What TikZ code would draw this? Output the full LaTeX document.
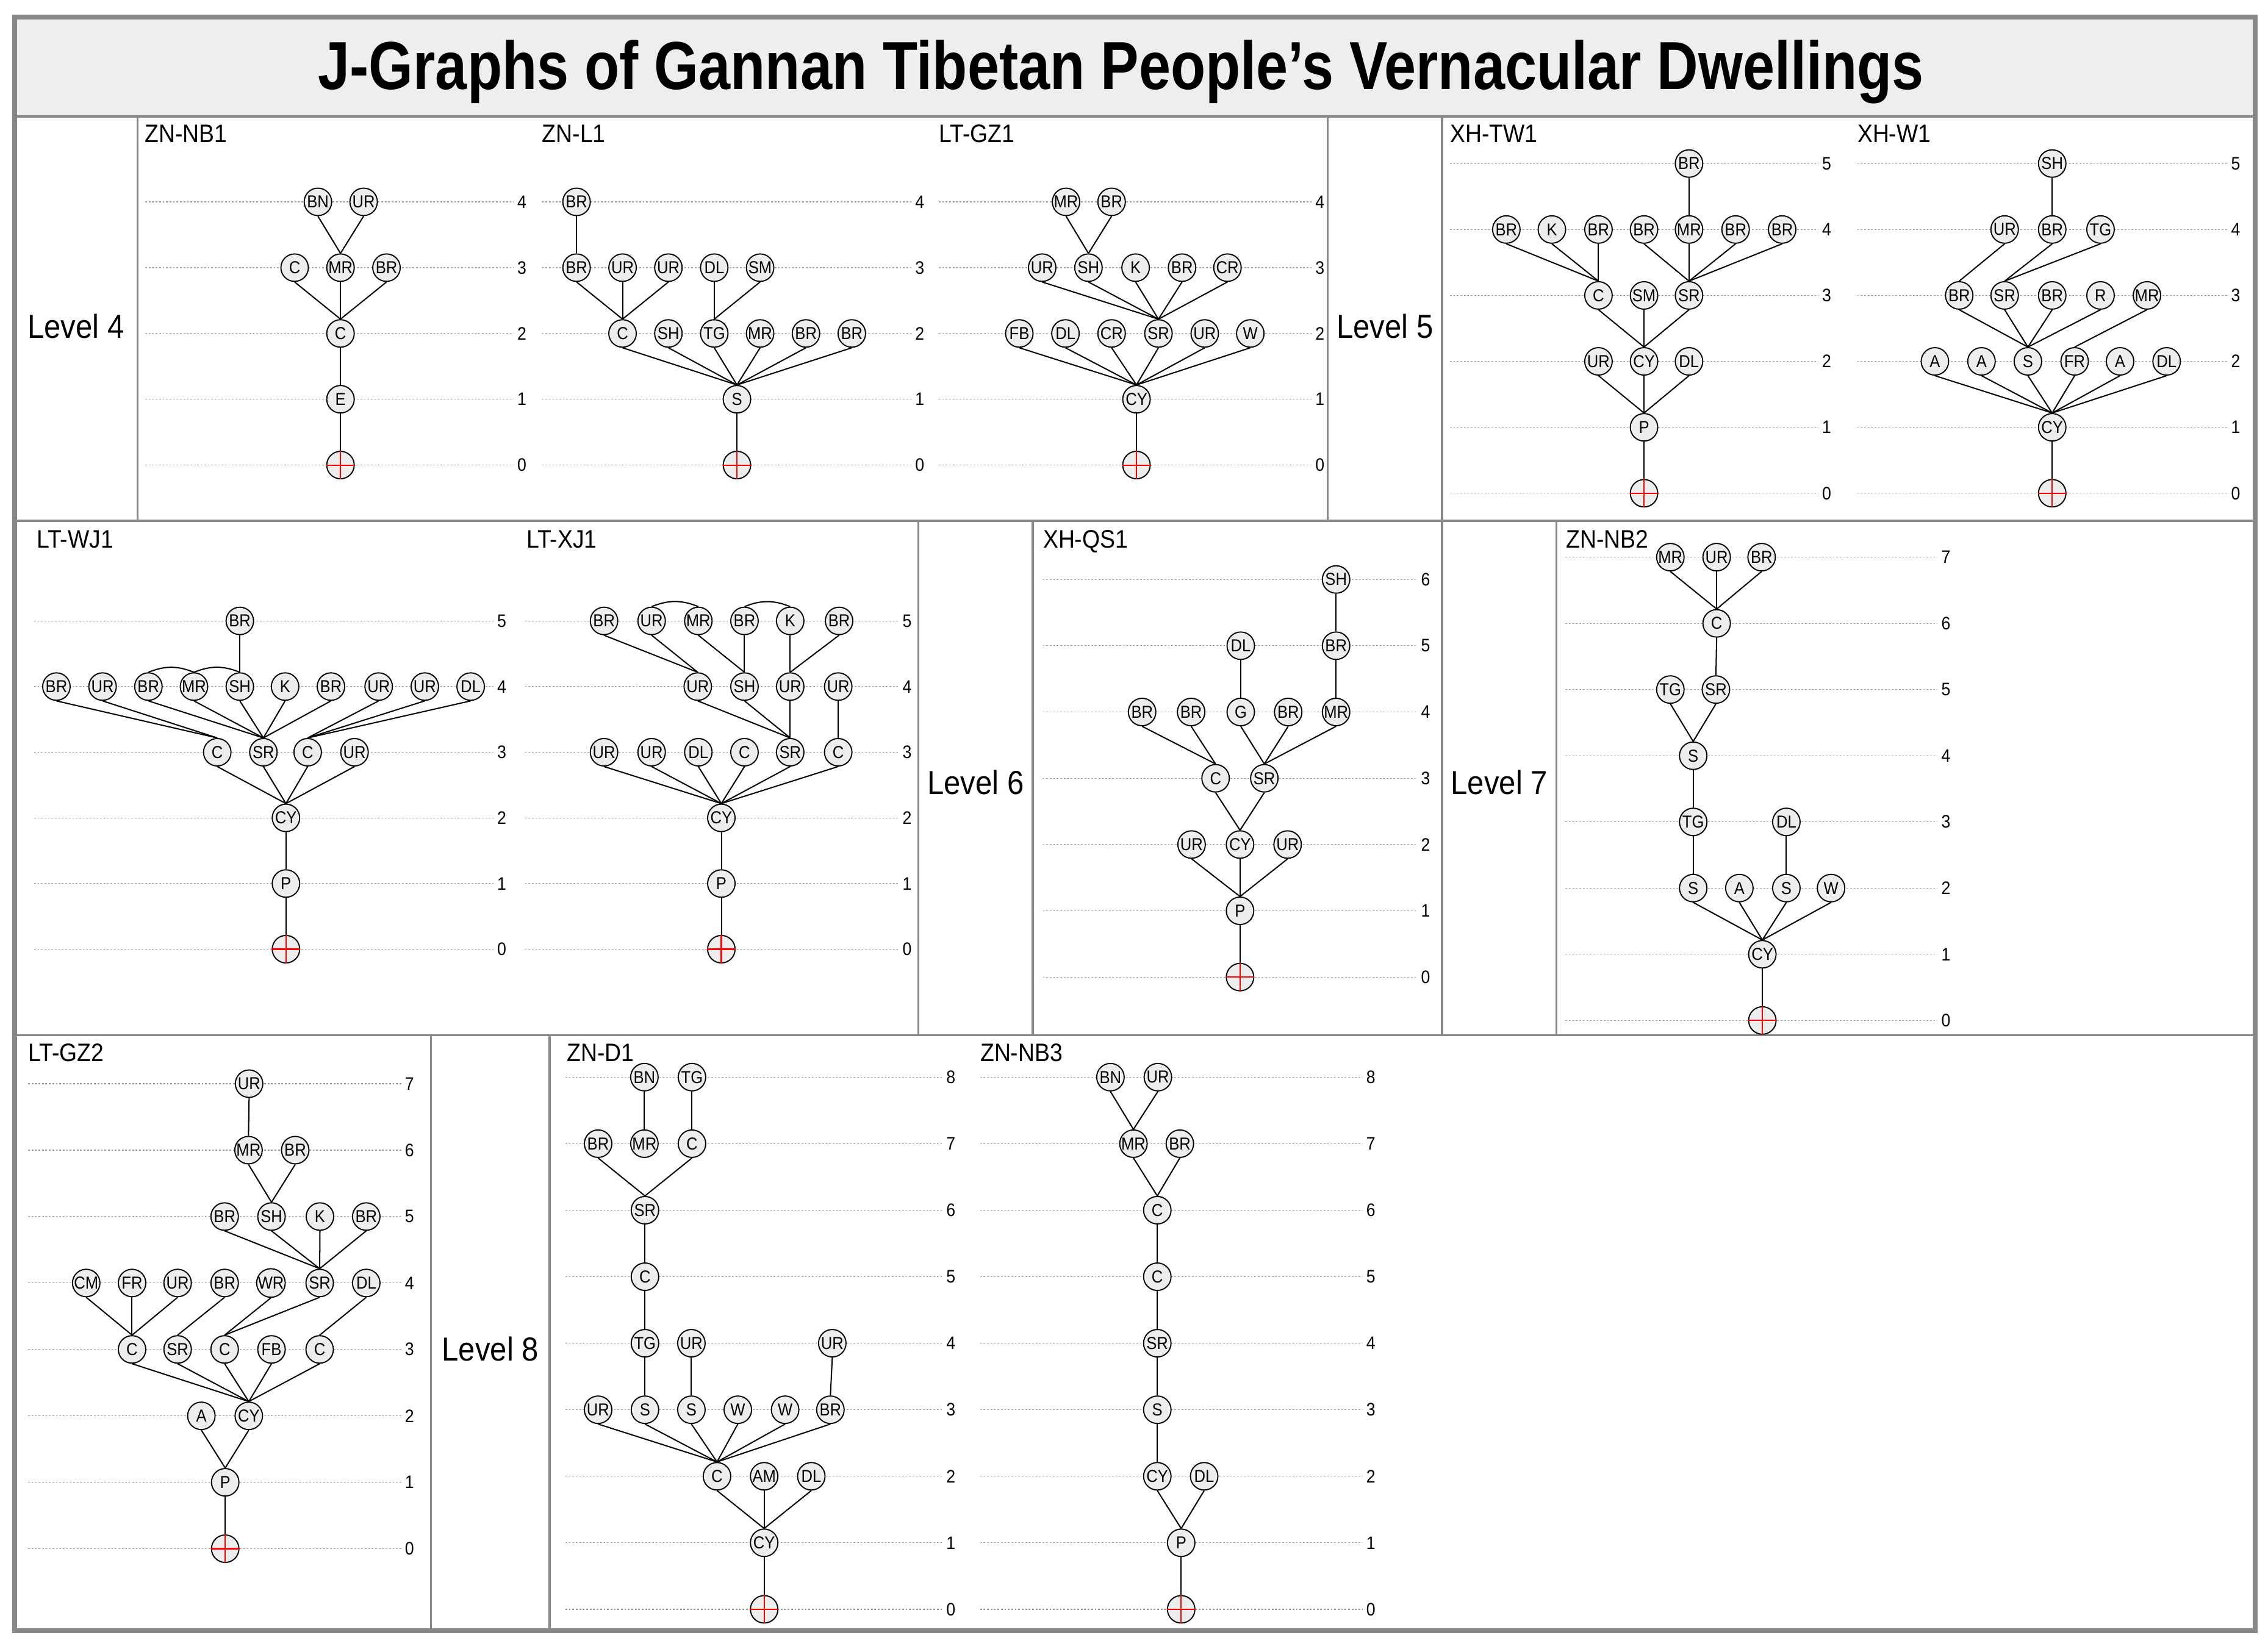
\documentclass[tikz,border=0pt]{standalone}
\usepackage{fontspec}
\setmainfont[FakeStretch=0.9]{Liberation Sans}
\newfontfamily\titlefont[FakeStretch=0.84]{Liberation Sans}
\definecolor{nodegray}{HTML}{EDEDED}
\definecolor{titlegray}{HTML}{EFEEEF}
\definecolor{framegray}{HTML}{888888}
\definecolor{lvlgray}{HTML}{9A9A9A}
\tikzset{
  nd/.style={circle, draw=black, fill=nodegray, line width=0.8pt, minimum size=19pt, inner sep=0pt, font=\fontsize{12}{13}\selectfont},
  edge/.style={draw=black, line width=0.85pt},
  lvl/.style={draw=lvlgray, line width=0.5pt, dash pattern=on 1.2pt off 1.2pt},
  num/.style={anchor=west, inner sep=0pt, font=\fontsize{12.5}{14}\selectfont},
  ptitle/.style={anchor=base west, inner sep=0pt, font=\fontsize{17.5}{20}\selectfont},
  lvlab/.style={inner sep=0pt, font=\fontsize{23}{26}\selectfont},
  crossred/.style={draw=red, line width=0.9pt},
  divline/.style={draw=framegray, line width=1.4pt},
}
\newcommand\jlv[4]{%
  \foreach \k in {0,...,#4}{%
    \draw[lvl] (#2,\k) -- (#3,\k);
    \node[num] (#1n\k) at ({#3+2.5},\k) {\k};
  }}
\newcommand\jroot[2]{%
  \node[nd] (#1) at (#2,0) {};
  \draw[crossred] (#1.west) -- (#1.east) (#1.north) -- (#1.south);}
\newcommand\jconn[1]{\foreach \u/\v in {#1}{\draw[edge] (\u.south) -- (\v.north);}}
\begin{document}
\begin{tikzpicture}[x=1pt,y=-1pt]
\useasboundingbox (0,0) rectangle (1568,1140);
\fill[white] (0,0) rectangle (1568,1140);
\fill[titlegray] (10,11.8) rectangle (1559,80.5);
\node[anchor=base, inner sep=0pt, font=\titlefont\bfseries\fontsize{47}{50}\selectfont] (title) at (775,61.9) {J-Graphs of Gannan Tibetan People’s Vernacular Dwellings};
% dividers
\draw[divline] (10,80.5) -- (1559,80.5);
\draw[divline] (10,360.2) -- (1559,360.2);
\draw[divline] (10,716) -- (1559,716);
\draw[divline] (95,80.5) -- (95,360.2);
\draw[divline] (918,80.5) -- (918,360.2);
\draw[divline] (997,80.5) -- (997,360.2);
\draw[divline] (635,360.2) -- (635,716);
\draw[divline] (714,360.2) -- (714,716);
\draw[divline] (997,360.2) -- (997,716);
\draw[divline] (1076,360.2) -- (1076,716);
\draw[divline] (298,716) -- (298,1127.6);
\draw[divline] (380,716) -- (380,1127.6);
\draw[draw=framegray, line width=3.4pt] (10,11.8) rectangle (1559,1127.6);
% level labels
\node[lvlab] (L4) at (52.5,225.5) {Level 4};
\node[lvlab] (L5) at (957.5,225.5) {Level 5};
\node[lvlab] (L6) at (674.5,541) {Level 6};
\node[lvlab] (L7) at (1036.5,541) {Level 7};
\node[lvlab] (L8) at (339,933) {Level 8};
% panel titles
\node[ptitle] (tA) at (100,98.3) {ZN-NB1};
\node[ptitle] (tB) at (374.7,98.3) {ZN-L1};
\node[ptitle] (tC) at (649,98.3) {LT-GZ1};
\node[ptitle] (tD) at (1002.4,98.3) {XH-TW1};
\node[ptitle] (tE) at (1284,98.3) {XH-W1};
\node[ptitle] (tF) at (25.2,378.8) {LT-WJ1};
\node[ptitle] (tG) at (363.8,378.8) {LT-XJ1};
\node[ptitle] (tH) at (721,378.8) {XH-QS1};
\node[ptitle] (tI) at (1082.6,378.8) {ZN-NB2};
\node[ptitle] (tJ) at (19.4,734.1) {LT-GZ2};
\node[ptitle] (tK) at (391.8,734.1) {ZN-D1};
\node[ptitle] (tL) at (677.6,734.1) {ZN-NB3};
% ---------- ZN-NB1
\begin{scope}[shift={(0,321.6)},y=45.5pt]
\jlv{a}{100.4}{355}{4}
\jroot{a0}{235.4}
\node[nd] (a1) at (235.4,1) {E};
\node[nd] (a2) at (235.4,2) {C};
\node[nd] (a3a) at (203.7,3) {C};
\node[nd] (a3b) at (235.4,3) {MR};
\node[nd] (a3c) at (267.2,3) {BR};
\node[nd] (a4a) at (219.8,4) {BN};
\node[nd] (a4b) at (251.4,4) {UR};
\jconn{a4a/a3b,a4b/a3b,a3a/a2,a3b/a2,a3c/a2,a2/a1,a1/a0}
\end{scope}
% ---------- ZN-L1
\begin{scope}[shift={(0,321.6)},y=45.5pt]
\jlv{b}{374.7}{630}{4}
\jroot{b0}{509.5}
\node[nd] (b1) at (509.5,1) {S};
\node[nd] (b2a) at (430.4,2) {C};
\node[nd] (b2b) at (462.1,2) {SH};
\node[nd] (b2c) at (493.8,2) {TG};
\node[nd] (b2d) at (525.5,2) {MR};
\node[nd] (b2e) at (557.2,2) {BR};
\node[nd] (b2f) at (588.9,2) {BR};
\node[nd] (b3a) at (398.6,3) {BR};
\node[nd] (b3b) at (430.4,3) {UR};
\node[nd] (b3c) at (462.1,3) {UR};
\node[nd] (b3d) at (493.8,3) {DL};
\node[nd] (b3e) at (525.5,3) {SM};
\node[nd] (b4a) at (398.6,4) {BR};
\jconn{b4a/b3a,b3a/b2a,b3b/b2a,b3c/b2a,b3d/b2c,b3e/b2c,b2a/b1,b2b/b1,b2c/b1,b2d/b1,b2e/b1,b2f/b1,b1/b0}
\end{scope}
% ---------- LT-GZ1
\begin{scope}[shift={(0,321.6)},y=45.5pt]
\jlv{c}{649}{906.7}{4}
\jroot{c0}{785.7}
\node[nd] (c1) at (785.7,1) {CY};
\node[nd] (c2a) at (704.7,2) {FB};
\node[nd] (c2b) at (736.6,2) {DL};
\node[nd] (c2c) at (768.5,2) {CR};
\node[nd] (c2d) at (800.9,2) {SR};
\node[nd] (c2e) at (832.9,2) {UR};
\node[nd] (c2f) at (864.4,2) {W};
\node[nd] (c3a) at (720.5,3) {UR};
\node[nd] (c3b) at (752.5,3) {SH};
\node[nd] (c3c) at (785.1,3) {K};
\node[nd] (c3d) at (817.2,3) {BR};
\node[nd] (c3e) at (848.6,3) {CR};
\node[nd] (c4a) at (737,4) {MR};
\node[nd] (c4b) at (768.5,4) {BR};
\jconn{c4a/c3b,c4b/c3b,c3a/c2d,c3b/c2d,c3c/c2d,c3d/c2d,c3e/c2d,c2a/c1,c2b/c1,c2c/c1,c2d/c1,c2e/c1,c2f/c1,c1/c0}
\end{scope}
% ---------- XH-TW1
\begin{scope}[shift={(0,341.1)},y=45.6pt]
\jlv{d}{1002.4}{1257.1}{5}
\jroot{d0}{1136.6}
\node[nd] (d1) at (1136.6,1) {P};
\node[nd] (d2a) at (1105.1,2) {UR};
\node[nd] (d2b) at (1136.6,2) {CY};
\node[nd] (d2c) at (1167.7,2) {DL};
\node[nd] (d3a) at (1105.1,3) {C};
\node[nd] (d3b) at (1136.6,3) {SM};
\node[nd] (d3c) at (1167.7,3) {SR};
\node[nd] (d4a) at (1041.4,4) {BR};
\node[nd] (d4b) at (1072.9,4) {K};
\node[nd] (d4c) at (1105.1,4) {BR};
\node[nd] (d4d) at (1136.6,4) {BR};
\node[nd] (d4e) at (1167.7,4) {MR};
\node[nd] (d4f) at (1199.9,4) {BR};
\node[nd] (d4g) at (1232.1,4) {BR};
\node[nd] (d5a) at (1167.7,5) {BR};
\jconn{d5a/d4e,d4a/d3a,d4b/d3a,d4c/d3a,d4d/d3c,d4e/d3c,d4f/d3c,d4g/d3c,d3a/d2b,d3b/d2b,d3c/d2b,d2a/d1,d2b/d1,d2c/d1,d1/d0}
\end{scope}
% ---------- XH-W1
\begin{scope}[shift={(0,341.1)},y=45.6pt]
\jlv{e}{1284}{1539.8}{5}
\jroot{e0}{1418.8}
\node[nd] (e1) at (1418.8,1) {CY};
\node[nd] (e2a) at (1337.7,2) {A};
\node[nd] (e2b) at (1369.9,2) {A};
\node[nd] (e2c) at (1402,2) {S};
\node[nd] (e2d) at (1434.3,2) {FR};
\node[nd] (e2e) at (1465.7,2) {A};
\node[nd] (e2f) at (1497.9,2) {DL};
\node[nd] (e3a) at (1354.5,3) {BR};
\node[nd] (e3b) at (1385.9,3) {SR};
\node[nd] (e3c) at (1418.8,3) {BR};
\node[nd] (e3d) at (1452.2,3) {R};
\node[nd] (e3e) at (1484.3,3) {MR};
\node[nd] (e4a) at (1385.9,4) {UR};
\node[nd] (e4b) at (1418.8,4) {BR};
\node[nd] (e4c) at (1452.2,4) {TG};
\node[nd] (e5a) at (1418.8,5) {SH};
\jconn{e5a/e4b,e4a/e3a,e4b/e3b,e4c/e3b,e3a/e2c,e3b/e2c,e3c/e2c,e3d/e2c,e3e/e2d,e2a/e1,e2b/e1,e2c/e1,e2d/e1,e2e/e1,e2f/e1,e1/e0}
\end{scope}
% ---------- LT-WJ1
\begin{scope}[shift={(0,656.4)},y=45.4pt]
\jlv{f}{23.6}{341.1}{5}
\jroot{f0}{197.7}
\node[nd] (f1) at (197.7,1) {P};
\node[nd] (f2) at (197.7,2) {CY};
\node[nd] (f3a) at (150.2,3) {C};
\node[nd] (f3b) at (182.1,3) {SR};
\node[nd] (f3c) at (212.7,3) {C};
\node[nd] (f3d) at (245.1,3) {UR};
\node[nd] (f4a) at (39,4) {BR};
\node[nd] (f4b) at (70.9,4) {UR};
\node[nd] (f4c) at (102.6,4) {BR};
\node[nd] (f4d) at (134.1,4) {MR};
\node[nd] (f4e) at (165.8,4) {SH};
\node[nd] (f4f) at (197.1,4) {K};
\node[nd] (f4g) at (228.8,4) {BR};
\node[nd] (f4h) at (261.8,4) {UR};
\node[nd] (f4i) at (293.7,4) {UR};
\node[nd] (f4j) at (325.4,4) {DL};
\node[nd] (f5a) at (165.8,5) {BR};
\jconn{f5a/f4e,f4a/f3a,f4b/f3a,f4c/f3b,f4d/f3b,f4e/f3b,f4f/f3b,f4g/f3b,f4h/f3c,f4i/f3c,f4j/f3c,f3a/f2,f3b/f2,f3c/f2,f3d/f2,f2/f1,f1/f0}
\draw[edge] (f4c.north) to[bend left=22] (f4d.north);
\draw[edge] (f4d.north) to[bend left=22] (f4e.north);
\end{scope}
% ---------- LT-XJ1
\begin{scope}[shift={(0,656.4)},y=45.4pt]
\jlv{g}{362.9}{621.3}{5}
\jroot{g0}{498.7}
\node[nd] (g1) at (498.7,1) {P};
\node[nd] (g2) at (498.7,2) {CY};
\node[nd] (g3a) at (417.6,3) {UR};
\node[nd] (g3b) at (450.5,3) {UR};
\node[nd] (g3c) at (482.8,3) {DL};
\node[nd] (g3d) at (514.7,3) {C};
\node[nd] (g3e) at (546.3,3) {SR};
\node[nd] (g3f) at (579.5,3) {C};
\node[nd] (g4a) at (482.4,4) {UR};
\node[nd] (g4b) at (514.7,4) {SH};
\node[nd] (g4c) at (546.3,4) {UR};
\node[nd] (g4d) at (579.5,4) {UR};
\node[nd] (g5a) at (417.6,5) {BR};
\node[nd] (g5b) at (450.5,5) {UR};
\node[nd] (g5c) at (482.8,5) {MR};
\node[nd] (g5d) at (514.7,5) {BR};
\node[nd] (g5e) at (546.3,5) {K};
\node[nd] (g5f) at (580.1,5) {BR};
\jconn{g5a/g4a,g5b/g4a,g5c/g4b,g5d/g4b,g5e/g4c,g5f/g4c,g4a/g3e,g4b/g3e,g4c/g3e,g4d/g3f,g3a/g2,g3b/g2,g3c/g2,g3d/g2,g3e/g2,g3f/g2,g2/g1,g1/g0}
\draw[edge] (g5b.north) to[bend left=22] (g5c.north);
\draw[edge] (g5d.north) to[bend left=22] (g5e.north);
\end{scope}
% ---------- XH-QS1
\begin{scope}[shift={(0,675.7)},y=45.83pt]
\jlv{h}{721}{979.8}{6}
\jroot{h0}{857.3}
\node[nd] (h1) at (857.3,1) {P};
\node[nd] (h2a) at (823.8,2) {UR};
\node[nd] (h2b) at (857.3,2) {CY};
\node[nd] (h2c) at (890.2,2) {UR};
\node[nd] (h3a) at (840.4,3) {C};
\node[nd] (h3b) at (874.1,3) {SR};
\node[nd] (h4a) at (789.6,4) {BR};
\node[nd] (h4b) at (823.5,4) {BR};
\node[nd] (h4c) at (857.8,4) {G};
\node[nd] (h4d) at (890.6,4) {BR};
\node[nd] (h4e) at (923.7,4) {MR};
\node[nd] (h5a) at (857.8,5) {DL};
\node[nd] (h5b) at (923.7,5) {BR};
\node[nd] (h6a) at (923.7,6) {SH};
\jconn{h6a/h5b,h5b/h4e,h5a/h4c,h4a/h3a,h4b/h3a,h4c/h3b,h4d/h3b,h4e/h3b,h3a/h2b,h3b/h2b,h2a/h1,h2b/h1,h2c/h1,h1/h0}
\end{scope}
% ---------- ZN-NB2
\begin{scope}[shift={(0,705.7)},y=45.77pt]
\jlv{i}{1082.3}{1339.5}{7}
\jroot{i0}{1218.4}
\node[nd] (i1) at (1218.4,1) {CY};
\node[nd] (i2a) at (1170.6,2) {S};
\node[nd] (i2b) at (1202.5,2) {A};
\node[nd] (i2c) at (1235,2) {S};
\node[nd] (i2d) at (1265.9,2) {W};
\node[nd] (i3a) at (1170.6,3) {TG};
\node[nd] (i3b) at (1235,3) {DL};
\node[nd] (i4a) at (1170.6,4) {S};
\node[nd] (i5a) at (1154.8,5) {TG};
\node[nd] (i5b) at (1186.3,5) {SR};
\node[nd] (i6a) at (1186.8,6) {C};
\node[nd] (i7a) at (1154.8,7) {MR};
\node[nd] (i7b) at (1186.8,7) {UR};
\node[nd] (i7c) at (1217.9,7) {BR};
\jconn{i7a/i6a,i7b/i6a,i7c/i6a,i6a/i5b,i5a/i4a,i5b/i4a,i4a/i3a,i3a/i2a,i3b/i2c,i2a/i1,i2b/i1,i2c/i1,i2d/i1,i1/i0}
\end{scope}
% ---------- LT-GZ2
\begin{scope}[shift={(0,1071)},y=45.94pt]
\jlv{j}{19.4}{277.3}{7}
\jroot{j0}{155.7}
\node[nd] (j1) at (155.7,1) {P};
\node[nd] (j2a) at (139.2,2) {A};
\node[nd] (j2b) at (172,2) {CY};
\node[nd] (j3a) at (91.3,3) {C};
\node[nd] (j3b) at (122.8,3) {SR};
\node[nd] (j3c) at (155.3,3) {C};
\node[nd] (j3d) at (187.7,3) {FB};
\node[nd] (j3e) at (221,3) {C};
\node[nd] (j4a) at (59.6,4) {CM};
\node[nd] (j4b) at (91.3,4) {FR};
\node[nd] (j4c) at (122.8,4) {UR};
\node[nd] (j4d) at (155.3,4) {BR};
\node[nd] (j4e) at (187.3,4) {WR};
\node[nd] (j4f) at (221,4) {SR};
\node[nd] (j4g) at (253.2,4) {DL};
\node[nd] (j5a) at (155.3,5) {BR};
\node[nd] (j5b) at (187.7,5) {SH};
\node[nd] (j5c) at (221.2,5) {K};
\node[nd] (j5d) at (253.2,5) {BR};
\node[nd] (j6a) at (171.8,6) {MR};
\node[nd] (j6b) at (204.1,6) {BR};
\node[nd] (j7a) at (172.2,7) {UR};
\jconn{j7a/j6a,j6a/j5b,j6b/j5b,j5a/j4f,j5b/j4f,j5c/j4f,j5d/j4f,j4a/j3a,j4b/j3a,j4c/j3a,j4d/j3b,j4e/j3c,j4f/j3c,j4g/j3e,j3a/j2b,j3b/j2b,j3c/j2b,j3d/j2b,j3e/j2b,j2a/j1,j2b/j1,j1/j0}
\end{scope}
% ---------- ZN-D1
\begin{scope}[shift={(0,1112.9)},y=46pt]
\jlv{k}{390.9}{651.6}{8}
\jroot{k0}{528.3}
\node[nd] (k1) at (528.3,1) {CY};
\node[nd] (k2a) at (495.7,2) {C};
\node[nd] (k2b) at (528.3,2) {AM};
\node[nd] (k2c) at (560.9,2) {DL};
\node[nd] (k3a) at (413.5,3) {UR};
\node[nd] (k3b) at (445.9,3) {S};
\node[nd] (k3c) at (478,3) {S};
\node[nd] (k3d) at (510.1,3) {W};
\node[nd] (k3e) at (542.8,3) {W};
\node[nd] (k3f) at (574.1,3) {BR};
\node[nd] (k4a) at (445.9,4) {TG};
\node[nd] (k4b) at (478,4) {UR};
\node[nd] (k4c) at (575.4,4) {UR};
\node[nd] (k5a) at (445.9,5) {C};
\node[nd] (k6a) at (445.9,6) {SR};
\node[nd] (k7a) at (413.5,7) {BR};
\node[nd] (k7b) at (445.5,7) {MR};
\node[nd] (k7c) at (478.4,7) {C};
\node[nd] (k8a) at (445.5,8) {BN};
\node[nd] (k8b) at (478.4,8) {TG};
\jconn{k8a/k7b,k8b/k7c,k7a/k6a,k7c/k6a,k6a/k5a,k5a/k4a,k4a/k3b,k4b/k3c,k4c/k3f,k3a/k2a,k3b/k2a,k3c/k2a,k3d/k2a,k3e/k2a,k3f/k2a,k2a/k1,k2b/k1,k2c/k1,k1/k0}
\end{scope}
% ---------- ZN-NB3
\begin{scope}[shift={(0,1112.9)},y=46pt]
\jlv{l}{677.6}{941.9}{8}
\jroot{l0}{816.6}
\node[nd] (l1) at (816.6,1) {P};
\node[nd] (l2a) at (800.1,2) {CY};
\node[nd] (l2b) at (832.5,2) {DL};
\node[nd] (l3a) at (800.1,3) {S};
\node[nd] (l4a) at (800.1,4) {SR};
\node[nd] (l5a) at (800.1,5) {C};
\node[nd] (l6a) at (800.1,6) {C};
\node[nd] (l7a) at (783.6,7) {MR};
\node[nd] (l7b) at (815.7,7) {BR};
\node[nd] (l8a) at (767.7,8) {BN};
\node[nd] (l8b) at (800.5,8) {UR};
\jconn{l8a/l7a,l8b/l7a,l7a/l6a,l7b/l6a,l6a/l5a,l5a/l4a,l4a/l3a,l3a/l2a,l2a/l1,l2b/l1,l1/l0}
\end{scope}
\end{tikzpicture}
\end{document}
